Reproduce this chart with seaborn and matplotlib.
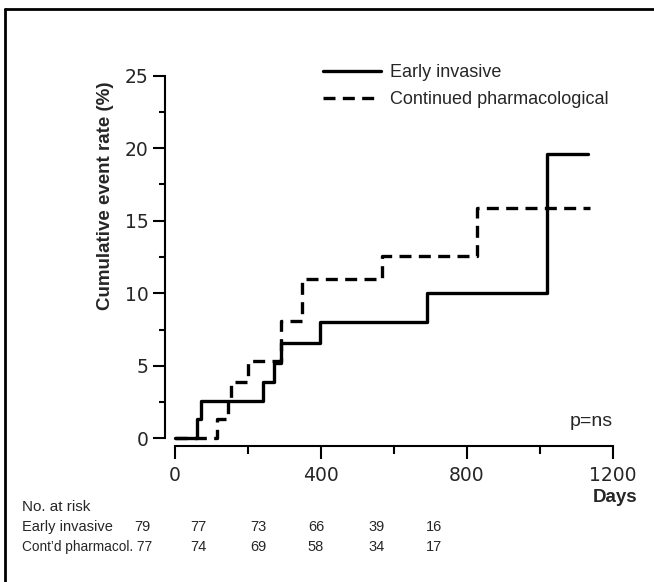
import matplotlib
matplotlib.use("Agg")
import matplotlib.pyplot as plt
from matplotlib.lines import Line2D
import seaborn as sns
import pandas as pd

# ---- data ----
early_days = [0, 59, 70, 240, 272, 292, 398, 690, 1019, 1133]
early_rate = [0, 1.3, 2.6, 3.9, 5.2, 6.6, 8.0, 10.0, 19.6, 19.6]
pharm_days = [0, 114, 144, 154, 201, 290, 347, 567, 827, 1138]
pharm_rate = [0, 1.3, 2.6, 3.9, 5.3, 8.1, 11.0, 12.6, 15.9, 15.9]

series_names = ["Early invasive", "Continued pharmacological"]
risk_row_labels = ["Early invasive", "Cont\u2019d pharmacol."]
risk_early = [79, 77, 73, 66, 39, 16]
risk_pharm = [77, 74, 69, 58, 34, 17]

x_major = [0, 400, 800, 1200]
x_minor = [200, 600, 1000]
y_major = [0, 5, 10, 15, 20, 25]
y_minor = [2.5, 7.5, 12.5, 17.5, 22.5]

sns.set_style("ticks")
plt.rcParams["font.family"] = ["Liberation Sans", "DejaVu Sans"]

W, H = 654, 582
fig = plt.figure(figsize=(W / 100, H / 100), dpi=100)

def fx(px):
    return px / W

def fy(py):
    return (H - py) / H

x_axis_y = 446.0
left_px, right_px = 165.0, 612.6
top_px = 75.7
ax = fig.add_axes([fx(left_px), fy(x_axis_y), (right_px - left_px) / W, (x_axis_y - top_px) / H])

df_e = pd.DataFrame({"day": early_days, "rate": early_rate})
df_p = pd.DataFrame({"day": pharm_days, "rate": pharm_rate})

sns.lineplot(data=df_e, x="day", y="rate", ax=ax, drawstyle="steps-post",
             estimator=None, sort=False, color="black", lw=2.4,
             label=series_names[0])
sns.lineplot(data=df_p, x="day", y="rate", ax=ax, drawstyle="steps-post",
             estimator=None, sort=False, color="black", lw=2.4,
             dashes=False, label=series_names[1])
ax.lines[1].set_linestyle((0, (3.6, 2.2)))

ax.set_xlim(-27.4, 1200)
ax.set_ylim(-0.53, 25)
ax.spines["left"].set_bounds(0, 25)
ax.spines["bottom"].set_bounds(0, 1200)
for s in ["top", "right"]:
    ax.spines[s].set_visible(False)
for s in ["left", "bottom"]:
    ax.spines[s].set_linewidth(1.5)
    ax.spines[s].set_color("black")

ax.set_xticks(x_major)
ax.set_xticks(x_minor, minor=True)
ax.set_yticks(y_major)
ax.set_yticks(y_minor, minor=True)
ax.set_xticklabels([str(v) for v in x_major], family=["DejaVu Sans"], fontsize=13.5)
ax.set_yticklabels([str(v) for v in y_major], family=["DejaVu Sans"], fontsize=13.5)
ax.tick_params(axis="x", which="major", length=9.5, width=1.5, pad=5, color="black")
ax.tick_params(axis="x", which="minor", length=5.5, width=1.5, color="black")
ax.tick_params(axis="y", which="major", length=8.5, width=1.5, pad=3.5, color="black")
ax.tick_params(axis="y", which="minor", length=4, width=1.5, color="black")
ax.set_xlabel("")
ax.set_ylabel("")

leg = ax.legend(loc="upper left", bbox_to_anchor=(fx(323), fy(64)),
                bbox_transform=fig.transFigure, frameon=False, fontsize=13,
                handlelength=3.2, handletextpad=0.5, labelspacing=0.55,
                borderpad=0, borderaxespad=0)
for h in leg.get_lines():
    h.set_linewidth(2.4)

ax.text(1200, 1.15, "p=ns", ha="right", va="center", fontsize=14)

fig.text(fx(105), fy(196), "Cumulative event rate (%)", rotation=90,
         ha="center", va="center", fontsize=13.5, fontweight="bold")
fig.text(fx(637), fy(497), "Days", ha="right", va="center", fontsize=13.5,
         fontweight="bold")

# number at risk table
tfs = 10.5
fig.text(fx(22), fy(507), "No. at risk", ha="left", va="center", fontsize=11)
col_x = [142, 198, 258, 316, 377, 434]
# row 1
fig.text(fx(22), fy(527), risk_row_labels[0], ha="left", va="center", fontsize=tfs)
for cx, v in zip(col_x, risk_early):
    fig.text(fx(cx), fy(527), str(v), ha="center", va="center", fontsize=tfs)
# row 2: the label runs straight into its first count, as in the original
fig.text(fx(22), fy(547), f"{risk_row_labels[1]} {risk_pharm[0]}", ha="left",
         va="center", fontsize=9.8)
for cx, v in zip(col_x[1:], risk_pharm[1:]):
    fig.text(fx(cx), fy(547), str(v), ha="center", va="center", fontsize=tfs)

# outer frame (top and left edges)
fig.add_artist(Line2D([fx(5), 1.0], [fy(9), fy(9)], color="black", lw=2,
                      transform=fig.transFigure))
fig.add_artist(Line2D([fx(5), fx(5)], [fy(9), 0.0], color="black", lw=2,
                      transform=fig.transFigure))

fig.savefig("out.png", dpi=100)
